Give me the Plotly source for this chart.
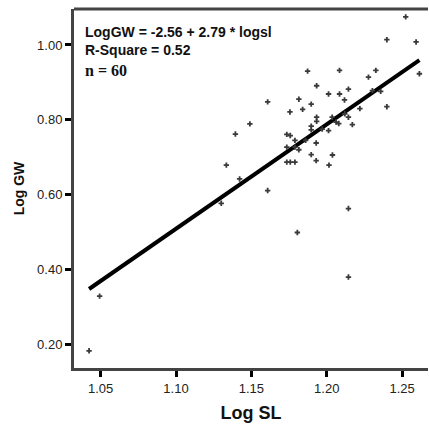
import plotly.graph_objects as go

log_sl = [1.0423, 1.0493, 1.130, 1.1334, 1.1422, 1.1394, 1.149, 1.1608, 1.1608,
          1.2524, 1.2399, 1.2593, 1.1873, 1.2085, 1.2326, 1.2277, 1.2615, 1.1933,
          1.2012, 1.2085, 1.2144, 1.2118, 1.2303, 1.2358, 1.1815, 1.184, 1.1897,
          1.1756, 1.2399, 1.1933, 1.1897, 1.1933, 1.2036, 1.2062, 1.2144, 1.217,
          1.2012, 1.1897, 1.1735, 1.1758, 1.1789, 1.1735, 1.1789, 1.1815, 1.1930,
          1.1897, 1.2038, 1.193, 1.1735, 1.1758, 1.1789, 1.2015, 1.2144, 1.1805,
          1.2144, 1.212, 1.197, 1.208, 1.222, 1.186]
log_gw = [0.183, 0.329, 0.577, 0.679, 0.642, 0.762, 0.789, 0.848, 0.611,
          1.075, 1.014, 1.008, 0.930, 0.932, 0.932, 0.914, 0.923, 0.891,
          0.869, 0.869, 0.882, 0.853, 0.878, 0.876, 0.855, 0.828, 0.842,
          0.821, 0.835, 0.807, 0.783, 0.796, 0.807, 0.794, 0.807, 0.787,
          0.771, 0.773, 0.761, 0.758, 0.745, 0.727, 0.727, 0.720, 0.738,
          0.707, 0.706, 0.691, 0.687, 0.687, 0.687, 0.679, 0.563, 0.499,
          0.380, 0.816, 0.775, 0.790, 0.830, 0.745]

intercept = -2.56
slope = 2.79
r_square = 0.52
n_obs = 60

x_ticks = [1.05, 1.10, 1.15, 1.20, 1.25]
y_ticks = [0.20, 0.40, 0.60, 0.80, 1.00]

xmin, xmax = min(log_sl), max(log_sl)
line_x = [xmin, xmax]
line_y = [intercept + slope * v for v in line_x]

SANS = "Arial"
SERIF = "Times New Roman"

fig = go.Figure()
fig.add_trace(go.Scatter(x=line_x, y=line_y, mode="lines",
                         line=dict(color="black", width=4), hoverinfo="skip"))
fig.add_trace(go.Scatter(x=log_sl, y=log_gw, mode="markers",
                         marker=dict(symbol="cross", size=4.5, color="#3a3a3a")))

fig.update_layout(
    width=429, height=430,
    margin=dict(l=74, r=1, t=9, b=62),
    paper_bgcolor="white", plot_bgcolor="white",
    showlegend=False,
    font=dict(family=SANS, color="#222"),
    xaxis=dict(range=[1.0323, 1.2672], tickvals=x_ticks, tickformat=".2f",
               showgrid=False, zeroline=False, showline=True, linecolor="#444",
               linewidth=3, ticks="outside", ticklen=6, tickwidth=3, tickcolor="black",
               tickfont=dict(size=13, color="#222", family=SANS),
               title=dict(text="<b>Log SL</b>", font=dict(size=18, color="#111", family=SANS), standoff=12)),
    yaxis=dict(range=[0.137, 1.096], tickvals=y_ticks, tickformat=".2f",
               showgrid=False, zeroline=False, showline=True, linecolor="#444",
               linewidth=3, ticks="outside", ticklen=6, tickwidth=3, tickcolor="black",
               tickfont=dict(size=13, color="#222", family=SANS),
               title=dict(text="<b>Log GW</b>", font=dict(size=14, color="#111", family=SANS), standoff=10)),
    shapes=[dict(type="line", xref="paper", yref="paper", x0=0, x1=1, y0=1, y1=1,
                 line=dict(color="#444", width=3))],
)

fig.add_annotation(xref="paper", yref="paper", x=0.025, y=0.937, xanchor="left", yanchor="middle",
                   showarrow=False,
                   text=f"<b>LogGW = {intercept:.2f} + {slope:.2f} * logsl</b>",
                   font=dict(size=14, color="#111", family=SANS))
fig.add_annotation(xref="paper", yref="paper", x=0.025, y=0.886, xanchor="left", yanchor="middle",
                   showarrow=False, text=f"<b>R-Square = {r_square:.2f}</b>",
                   font=dict(size=14, color="#111", family=SANS))
fig.add_annotation(xref="paper", yref="paper", x=0.025, y=0.83, xanchor="left", yanchor="middle",
                   showarrow=False, text=f"<b>n = {n_obs}</b>",
                   font=dict(size=16, color="#111", family=SERIF))

fig.write_html("out.html")
